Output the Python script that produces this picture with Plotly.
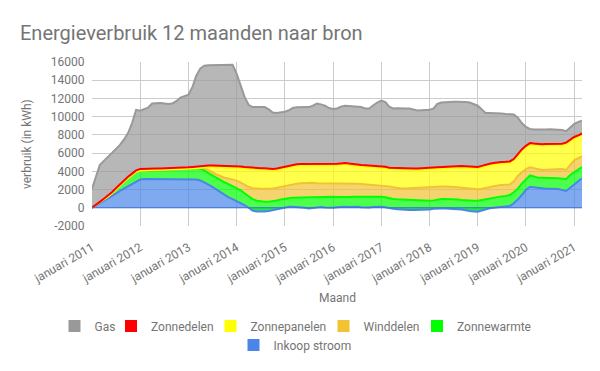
import pandas as pd
import plotly.graph_objects as go

# Monthly rolling-12-month values (kWh), Jan 2011 .. Mar 2021
months = pd.date_range("2011-01-01", periods=123, freq="MS")

inkoop_stroom = [
    0, 250, 500, 750, 980, 1250, 1550, 1850, 2100, 2300, 2550, 2850,
    3100, 3150, 3150, 3180, 3180, 3150, 3150, 3150, 3150, 3150, 3150, 3150,
    3150, 3130, 3100, 3000, 2800, 2550, 2300, 2000, 1650, 1400, 1150, 950,
    750, 550, 300, 0, -300, -420, -450, -420, -350, -250, -150, -50,
    50, 110, 110, 90, 50, 0, -70, -30, 50, 80, 20, 0,
    0, 50, 100, 110, 80, 100, 110, 50, 0, 30, 80, 100,
    110, 50, -50, -120, -150, -200, -230, -250, -255, -250, -220, -200,
    -180, -120, -70, -70, -80, -80, -100, -150, -200, -300, -360, -400,
    -440, -300, -150, -50, 0, 50, 80, 100, 200, 500, 900, 1400,
    1950, 2300, 2250, 2150, 2100, 2100, 2100, 2100, 2050, 1950, 1850, 2200,
    2550, 2900, 3250,
]
zonnewarmte = [
    0, 20, 100, 180, 230, 350, 490, 630, 770, 960, 1050, 1100,
    1000, 980, 1000, 1020, 990, 1020, 1030, 1030, 1040, 1050, 1080, 1120,
    1150, 1200, 1280, 1280, 1300, 1250, 1250, 1250, 1350, 1400, 1450, 1450,
    1400, 1350, 1300, 1250, 1250, 1200, 1130, 1070, 1000, 950, 950, 950,
    950, 940, 980, 1010, 1100, 1150, 1270, 1180, 1130, 1120, 1170, 1200,
    1200, 1130, 1060, 1040, 1090, 1100, 1100, 1170, 1210, 1170, 1120, 1100,
    1090, 1100, 1100, 1090, 1080, 1100, 1100, 1100, 1095, 1070, 1020, 980,
    940, 920, 970, 1020, 1030, 1030, 1050, 1050, 1050, 1100, 1140, 1160,
    1200, 1150, 1100, 1050, 1050, 1100, 1170, 1200, 1200, 1200, 1200, 1250,
    1200, 1250, 1200, 1150, 1200, 1200, 1200, 1180, 1200, 1250, 1300, 1400,
    1370, 1300, 1220,
]
winddelen = [
    0, 0, 0, 0, 0, 0, 0, 0, 0, 0, 0, 0,
    0, 0, 0, 0, 0, 0, 0, 0, 0, 0, 0, 0,
    0, 0, 0, 120, 250, 350, 350, 400, 450, 500, 600, 700,
    830, 850, 900, 1050, 1200, 1320, 1420, 1450, 1450, 1420, 1400, 1400,
    1400, 1450, 1510, 1550, 1530, 1550, 1560, 1600, 1520, 1480, 1480, 1460,
    1460, 1480, 1510, 1530, 1500, 1460, 1440, 1400, 1370, 1350, 1310, 1290,
    1280, 1280, 1300, 1280, 1220, 1220, 1250, 1300, 1340, 1380, 1430, 1490,
    1530, 1500, 1420, 1380, 1380, 1370, 1350, 1350, 1350, 1350, 1320, 1300,
    1280, 1250, 1250, 1290, 1300, 1300, 1250, 1200, 1150, 1200, 1400, 1250,
    1100, 900, 900, 900, 850, 880, 900, 940, 1000, 1050, 1000, 1100,
    1280, 1250, 1180,
]
zonnepanelen = [
    0, 0, 0, 0, 0, 0, 0, 0, 0, 0, 0, 0,
    0, 0, 0, 0, 0, 0, 0, 0, 0, 0, 0, 0,
    0, 0, 0, 30, 120, 330, 580, 820, 1020, 1150, 1250, 1330,
    1430, 1620, 1820, 1970, 2090, 2120, 2100, 2100, 2050, 1980, 1950, 1950,
    1930, 1900, 1950, 1980, 1970, 1950, 1890, 1880, 1930, 1970, 1960, 1960,
    1960, 2010, 2050, 2080, 2030, 1970, 1930, 1930, 1940, 1940, 1960, 1950,
    1960, 1920, 1900, 1970, 2040, 2050, 2030, 2000, 1970, 1950, 1930, 1920,
    1960, 1970, 1980, 2000, 2020, 2060, 2150, 2200, 2230, 2250, 2270, 2290,
    2290, 2350, 2400, 2400, 2420, 2400, 2370, 2400, 2390, 2300, 2250, 2350,
    2400, 2500, 2550, 2650, 2680, 2670, 2670, 2680, 2630, 2630, 2850, 2650,
    2420, 2350, 2350,
]
zonnedelen = [
    0, 30, 50, 70, 90, 100, 110, 120, 130, 140, 150, 150,
    150, 150, 150, 150, 150, 150, 150, 150, 150, 150, 150, 150,
    150, 150, 150, 150, 150, 150, 150, 150, 150, 150, 150, 150,
    150, 150, 150, 150, 150, 150, 150, 150, 150, 150, 150, 150,
    150, 150, 150, 150, 150, 150, 150, 150, 150, 150, 150, 150,
    150, 150, 150, 150, 150, 150, 150, 150, 150, 150, 150, 150,
    150, 150, 150, 150, 150, 150, 150, 150, 150, 150, 150, 150,
    150, 150, 150, 150, 150, 150, 150, 150, 150, 150, 150, 150,
    150, 150, 150, 150, 150, 150, 150, 150, 150, 150, 150, 150,
    150, 150, 150, 150, 150, 150, 150, 150, 150, 150, 150, 150,
    150, 150, 150,
]
gas = [
    2100, 3100, 4050, 4150, 4270, 4300, 4350, 4300, 4500, 4800, 5550, 6650,
    6400, 6570, 6700, 7100, 7180, 7180, 7120, 7070, 7110, 7350, 7720, 7830,
    7950, 8820, 9970, 10720, 10980, 11020, 11020, 11030, 11030, 11050, 11050, 11120,
    10140, 8880, 7730, 6880, 6660, 6680, 6700, 6700, 6500, 6200, 6100, 6050,
    6070, 6150, 6250, 6250, 6230, 6230, 6250, 6420, 6670, 6550, 6420, 6180,
    6080, 6080, 6230, 6290, 6300, 6370, 6370, 6350, 6230, 6260, 6630, 6960,
    7170, 7100, 6700, 6530, 6580, 6630, 6600, 6600, 6500, 6380, 6390, 6360,
    6350, 6480, 6950, 7070, 7100, 7070, 7050, 7050, 7070, 7050, 7030, 6900,
    6720, 6200, 5650, 5560, 5480, 5400, 5330, 5250, 5210, 4900, 4000, 2900,
    2070, 1550, 1550, 1580, 1600, 1600, 1600, 1550, 1570, 1520, 1250, 1300,
    1430, 1470, 1400,
]

tick_years = list(range(2011, 2022))
tick_vals = [f"{y}-01-01" for y in tick_years]
tick_text = [f"januari {y}" for y in tick_years]
y_ticks = list(range(-2000, 16001, 2000))
y_tick_text = [str(v) for v in y_ticks]

# stacking order bottom -> top
series = [
    ("Inkoop stroom", inkoop_stroom, "#4a86e8"),
    ("Zonnewarmte", zonnewarmte, "#00ff00"),
    ("Winddelen", winddelen, "#f1c232"),
    ("Zonnepanelen", zonnepanelen, "#ffff00"),
    ("Zonnedelen", zonnedelen, "#ff0000"),
    ("Gas", gas, "#999999"),
]


def rgba(hexc, a):
    h = hexc.lstrip("#")
    r, g, b = int(h[0:2], 16), int(h[2:4], 16), int(h[4:6], 16)
    return f"rgba({r},{g},{b},{a})"


fig = go.Figure()
for name, vals, col in series:
    fig.add_trace(go.Scatter(
        x=months, y=vals, name=name, mode="lines",
        stackgroup="one", line=dict(color=col, width=2),
        fillcolor=rgba(col, 0.7), showlegend=False, hoverinfo="skip",
    ))

txt = "#757575"
font_family = "Roboto, Arial, sans-serif"

# legend entries (square swatches), in reference order; one legend each
# (name, colour, swatch centre x in px, row centre y in px)
legend_items = [
    ("Gas", "#999999", 77.5, 326),
    ("Zonnedelen", "#ff0000", 134, 326),
    ("Zonnepanelen", "#ffff00", 233.5, 326),
    ("Winddelen", "#f1c232", 346.5, 326),
    ("Zonnewarmte", "#00ff00", 440, 326),
    ("Inkoop stroom", "#4a86e8", 256.5, 345),
]
legend_layouts = {}
for i, (name, col, cx, cy) in enumerate(legend_items):
    key = "legend" if i == 0 else f"legend{i + 1}"
    fig.add_trace(go.Scatter(
        x=[None], y=[None], mode="markers", name=name, legend=key,
        marker=dict(symbol="square", size=12, color=col),
        hoverinfo="skip",
    ))
    legend_layouts[key] = dict(
        orientation="h", x=(cx - 3 - 20) / 600, xanchor="left",
        xref="container", y=1 - cy / 371, yanchor="middle", yref="container",
        font=dict(size=12, color=txt, family=font_family),
        bgcolor="rgba(0,0,0,0)", borderwidth=0,
    )

fig.update_layout(
    width=600, height=371,
    margin=dict(l=92, r=18, t=62, b=145),
    paper_bgcolor="white", plot_bgcolor="white",
    font=dict(family=font_family, size=12, color=txt),
    title=dict(text="Energieverbruik 12 maanden naar bron", x=20 / 600,
               xanchor="left", xref="container", y=1 - 33 / 371,
               yanchor="middle", yref="container",
               font=dict(size=20, color=txt, family=font_family)),
    showlegend=True,
    xaxis=dict(type="date", range=["2011-01-01", "2021-03-01"],
               tickvals=tick_vals, ticktext=tick_text, tickangle=-30,
               showgrid=True, gridcolor="#cccccc", gridwidth=1,
               zeroline=False, showline=False,
               ticks="outside", ticklen=9, tickcolor="rgba(0,0,0,0)",
               tickfont=dict(size=12, color=txt)),
    yaxis=dict(range=[-2000, 16000], tickvals=y_ticks, ticktext=y_tick_text,
               showgrid=True, gridcolor="#cccccc", gridwidth=1,
               zeroline=False, showline=False,
               ticks="outside", ticklen=4, tickcolor="rgba(0,0,0,0)",
               tickfont=dict(size=12, color=txt)),
    annotations=[
        dict(text="verbruik (in kWh)", xref="paper", yref="paper",
             x=-(92 - 27) / 490, y=0.5, textangle=-90, showarrow=False,
             xanchor="center", yanchor="middle", font=dict(size=12, color=txt)),
        dict(text="Maand", xref="paper", yref="paper", x=0.5,
             y=-(298 - 226) / 163.5, showarrow=False, xanchor="center",
             yanchor="middle", font=dict(size=12, color=txt)),
    ],
    shapes=[dict(type="line", xref="paper", yref="y", x0=0, x1=1, y0=0, y1=0,
                 line=dict(color="#3d6fd6", width=1), layer="above")],
)
fig.update_layout(**legend_layouts)

fig.write_html(
    "out.html",
    config={"displayModeBar": False},
    post_script="document.body.style.margin='0';document.body.style.overflow='hidden';",
)
